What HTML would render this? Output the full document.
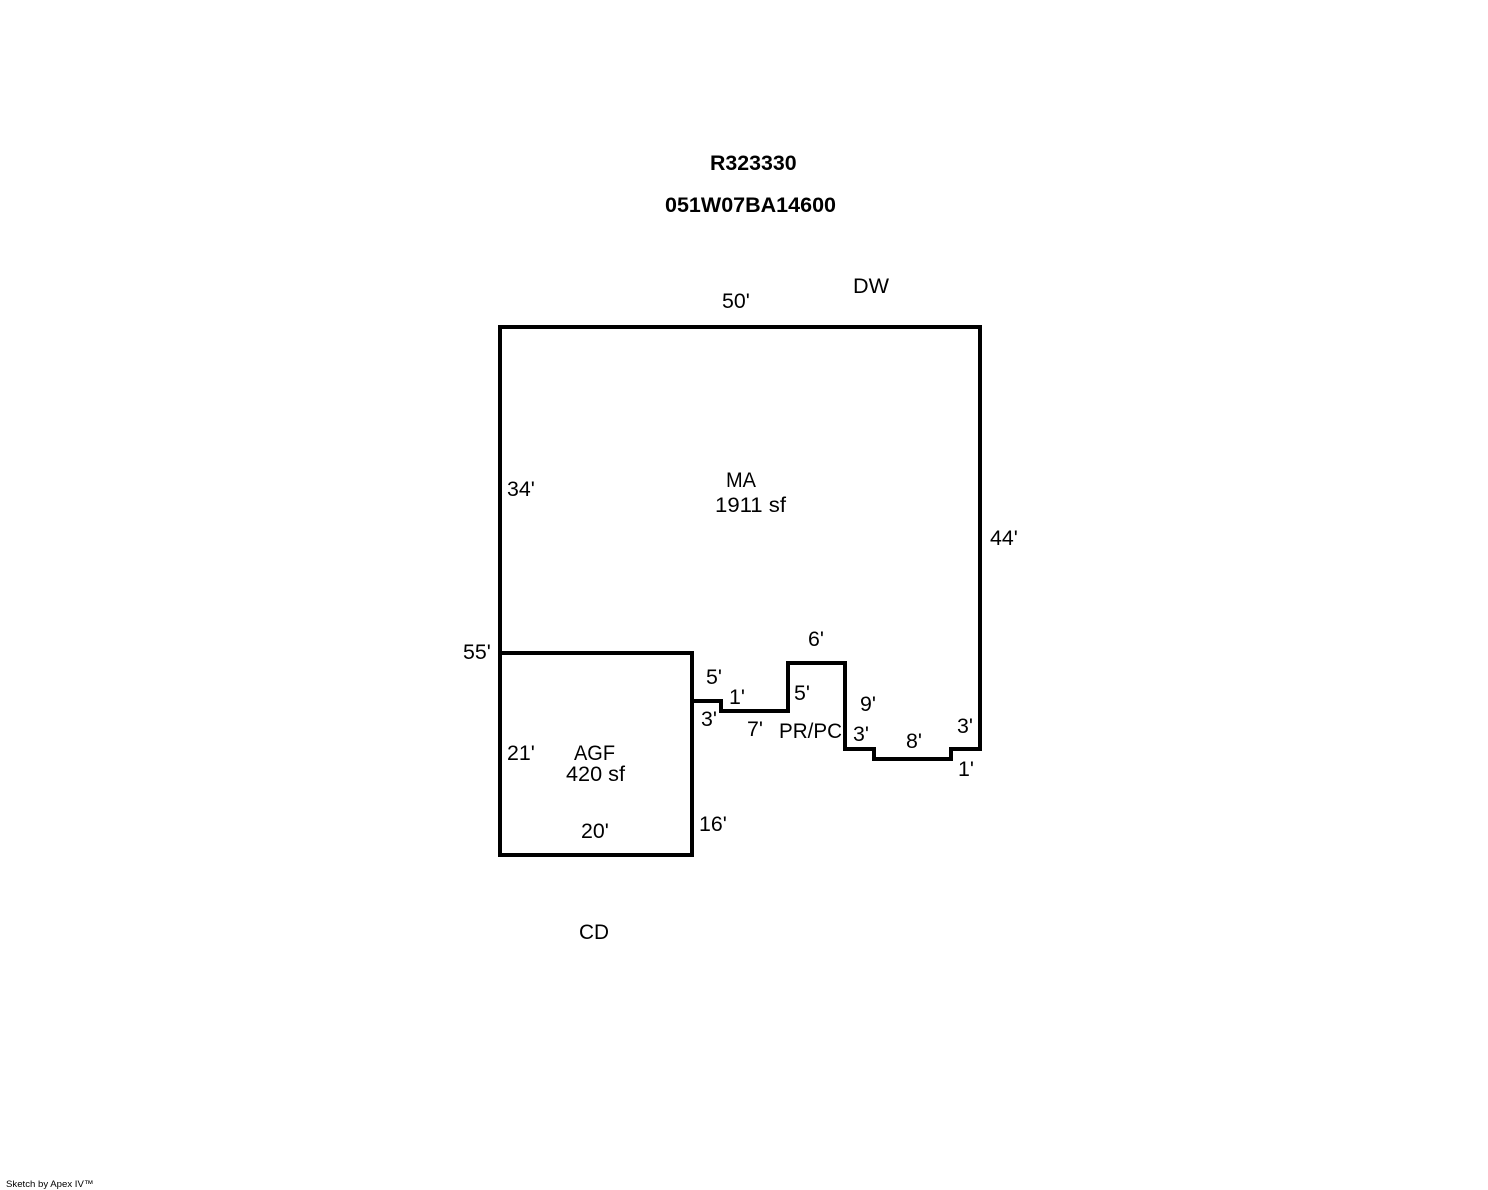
<!DOCTYPE html>
<html>
<head>
<meta charset="utf-8">
<style>
html,body{margin:0;padding:0;background:#fff;}
svg{display:block;}
text{font-family:"Liberation Sans",Arial,sans-serif;font-size:21.33px;fill:#000;}
.b{font-weight:bold;}
.s{font-size:9.6px;}
</style>
</head>
<body>
<svg width="1488" height="1190" viewBox="0 0 1488 1190" xmlns="http://www.w3.org/2000/svg">
<rect width="1488" height="1190" fill="#fff"/>
<g fill="none" stroke="#000" stroke-width="4" stroke-linejoin="miter" stroke-linecap="square">
<path d="M500 653V327H980V749H951V759H874V749H845V663H788V711H721V701H692"/>
<path d="M500 653H692V855H500Z"/>
</g>
<text class="b" x="710" y="170">R323330</text>
<text class="b" x="665" y="212" textLength="171" lengthAdjust="spacingAndGlyphs">051W07BA14600</text>
<text x="853" y="293" textLength="36" lengthAdjust="spacingAndGlyphs">DW</text>
<text x="722" y="308">50'</text>
<text x="507" y="496">34'</text>
<text x="726" y="487" textLength="30" lengthAdjust="spacingAndGlyphs">MA</text>
<text x="715" y="512" textLength="71" lengthAdjust="spacingAndGlyphs">1911 sf</text>
<text x="990" y="545">44'</text>
<text x="463" y="659">55'</text>
<text x="808" y="646">6'</text>
<text x="706" y="684">5'</text>
<text x="729" y="704">1'</text>
<text x="794" y="700">5'</text>
<text x="860" y="711">9'</text>
<text x="701" y="726">3'</text>
<text x="747" y="736">7'</text>
<text x="779" y="738" textLength="63" lengthAdjust="spacingAndGlyphs">PR/PC</text>
<text x="853" y="741">3'</text>
<text x="957" y="733">3'</text>
<text x="906" y="748">8'</text>
<text x="958" y="776">1'</text>
<text x="507" y="760">21'</text>
<text x="574" y="760" textLength="41" lengthAdjust="spacingAndGlyphs">AGF</text>
<text x="566" y="781" textLength="59" lengthAdjust="spacingAndGlyphs">420 sf</text>
<text x="581" y="838">20'</text>
<text x="699" y="831">16'</text>
<text x="579" y="939" textLength="30" lengthAdjust="spacingAndGlyphs">CD</text>
<text class="s" x="6" y="1187">Sketch by Apex IV™</text>
</svg>
</body>
</html>
